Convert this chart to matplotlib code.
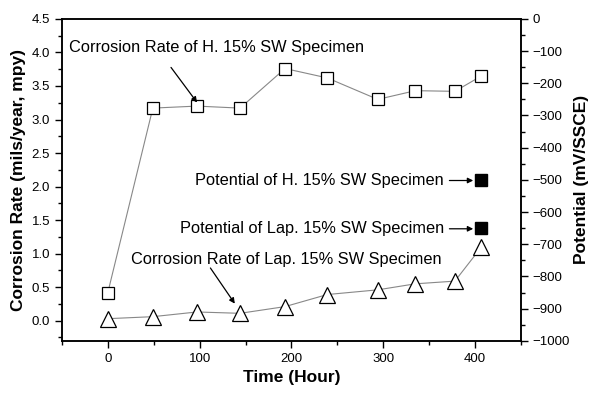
import matplotlib.pyplot as plt
from matplotlib.ticker import MultipleLocator

plt.rcParams['font.family'] = ['Liberation Sans', 'DejaVu Sans']

# Time (hours)
hours = [0, 49, 97, 144, 193, 239, 294, 335, 378, 407]
# Corrosion rate (mpy)
rate_h = [0.42, 3.17, 3.20, 3.17, 3.76, 3.62, 3.30, 3.43, 3.42, 3.65]
rate_lap = [0.03, 0.06, 0.13, 0.11, 0.21, 0.39, 0.46, 0.55, 0.59, 1.10]
# Potential (mV/SSCE)
pot_hours = [407, 407]
pot_values = [-500, -650]

fig = plt.figure(figsize=(5.9, 3.94), dpi=100)
ax = fig.add_axes([0.105, 0.135, 0.778, 0.817])
ax2 = ax.twinx()

ax.plot(hours, rate_h, color='#888888', lw=0.8, marker='s', ms=8.5,
        mfc='white', mec='black', mew=0.9)
ax.plot(hours, rate_lap, color='#888888', lw=0.8, marker='^', ms=12,
        mfc='white', mec='black', mew=0.9)
ax2.plot(pot_hours, pot_values, ls='none', marker='s', ms=8.5,
         mfc='black', mec='black')

ax.set_xlim(-50, 450)
ax.set_ylim(-0.3, 4.5)
ax2.set_ylim(-1000, 0)

ax.xaxis.set_major_locator(MultipleLocator(100))
ax.xaxis.set_minor_locator(MultipleLocator(50))
ax.yaxis.set_major_locator(MultipleLocator(0.5))
ax.yaxis.set_minor_locator(MultipleLocator(0.25))
ax2.yaxis.set_major_locator(MultipleLocator(100))
ax2.yaxis.set_minor_locator(MultipleLocator(50))

for a in (ax, ax2):
    a.tick_params(which='major', direction='out', length=5, width=1, labelsize=9.5)
    a.tick_params(which='minor', direction='out', length=3, width=1)
    for s in a.spines.values():
        s.set_linewidth(1.1)

ax.set_xlabel('Time (Hour)', fontsize=12.5, fontweight='bold')
ax.set_ylabel('Corrosion Rate (mils/year, mpy)', fontsize=12.5, fontweight='bold')
ax2.set_ylabel('Potential (mV/SSCE)', fontsize=12.5, fontweight='bold', labelpad=3)

arrow = dict(arrowstyle='-|>', color='black', lw=0.9, mutation_scale=8)
fs = 11.8
ax.annotate('Corrosion Rate of H. 15% SW Specimen', xy=(0, 0),
            xytext=(-42, 4.08), fontsize=fs, ha='left', va='center')
ax.annotate('', xy=(99, 3.22), xytext=(67, 3.81), arrowprops=arrow)

ax2.annotate('Potential of H. 15% SW Specimen', xy=(401, -502),
             xytext=(366, -502), fontsize=fs, ha='right', va='center',
             arrowprops=arrow)
ax2.annotate('Potential of Lap. 15% SW Specimen', xy=(401, -652),
             xytext=(366, -652), fontsize=fs, ha='right', va='center',
             arrowprops=arrow)

ax.annotate('Corrosion Rate of Lap. 15% SW Specimen', xy=(0, 0),
            xytext=(25, 0.91), fontsize=fs, ha='left', va='center')
ax.annotate('', xy=(140, 0.22), xytext=(110, 0.82), arrowprops=arrow)

fig.savefig('out.png', dpi=100)
